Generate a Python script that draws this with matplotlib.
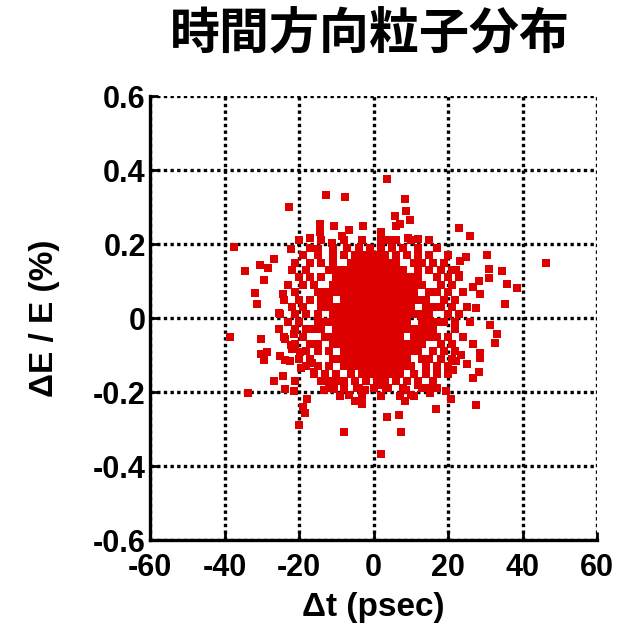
"""Time-direction particle distribution scatter (dt vs dE/E)."""
import matplotlib
matplotlib.use("Agg")
import matplotlib.pyplot as plt
import numpy as np

TITLE = "時間方向粒子分布"
XLABEL = "Δt (psec)"
YLABEL = "ΔE / E (%)"
XTICKS = [-60, -40, -20, 0, 20, 40, 60]
YTICKS = [-0.6, -0.4, -0.2, 0, 0.2, 0.4, 0.6]
YTICKLABELS = ["-0.6", "-0.4", "-0.2", "0", "0.2", "0.4", "0.6"]

halo_t = [-12.7, -7.6, -22.8, -14.4, -10.6, -14.4, -6.5, -2.7, -17.1, -20.1,
          -11.1, -8.4, -22.2, -14.9, -37.4, -26.8, -34.4, -30.6, -28.2, -29.3,
          -31.7, -31.2, -24.4, -25.5,
          3.5, 8.4, 8.7, 5.7, 9.8, 7.0, 6.0, 23.0, 26.0, 1.9,
          9.2, 11.9, 3.8, 46.3, 30.4, 24.7, 23.3, 34.4, 30.9, 30.9,
          28.2, 35.8, 38.5, 26.8, 28.7, 35.2, 22.2, 23.0, 27.6,
          -38.5, -30.1, -23.8, -21.4, -25.5, -30.1, -28.7, -29.5, -22.2, -22.0,
          -19.8, -25.2, -23.8, -22.5, -24.4, -26.8, -21.1, -23.8, -21.4, -33.6,
          -19.5, -17.9, -19.0, -18.4, -20.1, -7.9, -16.5, -16.0, -13.3, -10.6,
          -10.0, -7.9, -6.5, -5.1, -3.0, -4.3, -2.2, -12.5,
          31.4, 33.1, 32.5, 26.8, 28.5, 28.7, 23.6, 25.2, 22.2, 28.2,
          26.6, 21.4, 19.5, 20.9, 27.6, 16.8, 15.2, 15.2, 11.9, 8.7,
          10.0, 8.4, 6.8, 3.5, 7.3, 1.9, 1.4, 3.3]
halo_e = [0.332, 0.327, 0.300, 0.254, 0.249, 0.232, 0.238, 0.249, 0.216, 0.211,
          0.203, 0.222, 0.186, 0.186, 0.192, 0.159, 0.127, 0.143, 0.135, 0.103,
          0.068, 0.038, 0.065, 0.014,
          0.376, 0.322, 0.289, 0.276, 0.265, 0.254, 0.249, 0.243, 0.222, 0.232,
          0.216, 0.214, 0.211, 0.149, 0.170, 0.165, 0.154, 0.127, 0.132, 0.108,
          0.100, 0.092, 0.081, 0.084, 0.065, 0.038, 0.130, 0.116, 0.027,
          -0.051, -0.057, -0.057, -0.043, -0.030, -0.097, -0.092, -0.114, -0.073, -0.084,
          -0.092, -0.103, -0.114, -0.116, -0.157, -0.170, -0.170, -0.192, -0.197, -0.203,
          -0.135, -0.219, -0.241, -0.257, -0.289, -0.308, -0.122, -0.146, -0.195, -0.192,
          -0.170, -0.170, -0.208, -0.224, -0.232, -0.189, -0.195, -0.170,
          -0.019, -0.043, -0.068, -0.070, -0.095, -0.108, -0.100, -0.124, -0.116, -0.146,
          -0.162, -0.141, -0.197, -0.219, -0.235, -0.246, -0.189, -0.203, -0.181, -0.195,
          -0.208, -0.224, -0.262, -0.268, -0.308, -0.368, -0.181, -0.189]

# dense core: dE/E of each row and the dt positions of particles in it
core_e = [0.21, 0.19, 0.17, 0.15, 0.13, 0.11, 0.09, 0.07, 0.05, 0.03, 0.01,
          -0.01, -0.03, -0.05, -0.07, -0.09, -0.11, -0.13, -0.15, -0.17, -0.19, -0.21]
core_t = [
    [-14, -8, -3, 2, 6, 10, 15],
    [-17, -11, -7, -4, -1, 2, 5, 8, 12, 17],
    [-19, -15, -11, -8, -5, -3, -1, 1, 3, 6, 9, 12, 15, 20],
    [-21, -17, -14, -11, -6, -4, -2, 0, 2, 4, 6, 11, 13, 16, 19],
    [-22, -18, -12, -10, -8, -6, -4, -2, 0, 2, 4, 6, 8, 12, 15, 18, 21],
    [-20, -17, -14, -10, -8, -6, -4, -2, 0, 2, 4, 6, 8, 10, 12, 17, 20, 23],
    [-23, -19, -16, -11, -9, -7, -5, -3, -1, 1, 3, 5, 7, 9, 11, 13, 18, 21],
    [-21, -15, -13, -11, -9, -7, -5, -3, -1, 1, 3, 5, 7, 9, 11, 15, 17, 20, 24],
    [-24, -20, -17, -14, -12, -8, -6, -4, -2, 0, 2, 4, 6, 8, 10, 12, 14, 19, 22],
    [-22, -19, -14, -12, -10, -8, -6, -4, -2, 0, 2, 4, 6, 8, 10, 14, 16, 18, 21, 25],
    [-25, -21, -18, -15, -11, -9, -7, -5, -3, -1, 1, 3, 5, 7, 9, 11, 13, 15, 20, 23],
    [-23, -20, -15, -13, -11, -9, -7, -5, -3, -1, 1, 3, 5, 7, 9, 13, 15, 17, 19, 22, 26],
    [-21, -18, -16, -14, -10, -8, -6, -4, -2, 0, 2, 4, 6, 8, 10, 12, 14, 16, 22],
    [-24, -19, -13, -11, -9, -7, -5, -3, -1, 1, 3, 5, 7, 11, 13, 15, 17, 20, 24],
    [-21, -17, -15, -11, -9, -7, -5, -3, -1, 1, 3, 5, 7, 9, 11, 13, 18, 21],
    [-18, -15, -12, -8, -6, -4, -2, 0, 2, 4, 6, 8, 10, 12, 16, 19, 22],
    [-20, -17, -11, -9, -7, -5, -3, -1, 1, 3, 5, 7, 9, 13, 15, 18, 21],
    [-18, -15, -12, -8, -6, -4, -2, 0, 2, 4, 6, 8, 10, 14, 17, 20],
    [-16, -13, -10, -6, -3, -1, 1, 3, 5, 7, 11, 14, 17, 20],
    [-14, -11, -8, -5, -2, 1, 3, 6, 9, 12, 16],
    [-12, -8, -4, 0, 4, 8, 13, 17],
    [-9, -3, 2, 7, 11],
]

t = list(halo_t)
e = list(halo_e)
for row_e, row_t in zip(core_e, core_t):
    t += row_t
    e += [row_e] * len(row_t)
t = np.asarray(t, float)
e = np.asarray(e, float)

plt.rcParams["font.family"] = ["Liberation Sans", "DejaVu Sans"]
plt.rcParams["axes.unicode_minus"] = False

fig = plt.figure(figsize=(6.3, 6.26), dpi=100)
ax = fig.add_axes([150 / 630, 86 / 626, 447 / 630, 444 / 626])

ax.scatter(t, e, marker="s", s=27, c="#dd0000", linewidths=0, zorder=3)

ax.set_xlim(-60, 60); ax.set_ylim(-0.6, 0.6)
ax.set_xticks(XTICKS)
ax.set_yticks(YTICKS); ax.set_yticklabels(YTICKLABELS)
ax.set_axisbelow(True)
ax.grid(True, color="black", linestyle=(0, (1, 1)), linewidth=2.4)
ax.tick_params(direction="in", length=6, width=2, labelsize=22)
for lab in ax.get_xticklabels() + ax.get_yticklabels():
    lab.set_fontweight("bold")
ax.tick_params(axis="x", pad=9)
ax.tick_params(axis="y", pad=3)
for side in ("top", "right"):
    ax.spines[side].set_visible(False)
for side in ("left", "bottom"):
    ax.spines[side].set_linewidth(2.4)

ax.set_xlabel(XLABEL, fontsize=24, fontweight="bold", labelpad=7)
ax.set_ylabel(YLABEL, fontsize=24, fontweight="bold", labelpad=24)

fig.text(370 / 630, 1 - 35 / 626, TITLE, ha="center", va="center",
         fontsize=36, fontweight="bold",
         family=["Noto Sans CJK JP", "DejaVu Sans"])

fig.savefig("out.png", dpi=100)
